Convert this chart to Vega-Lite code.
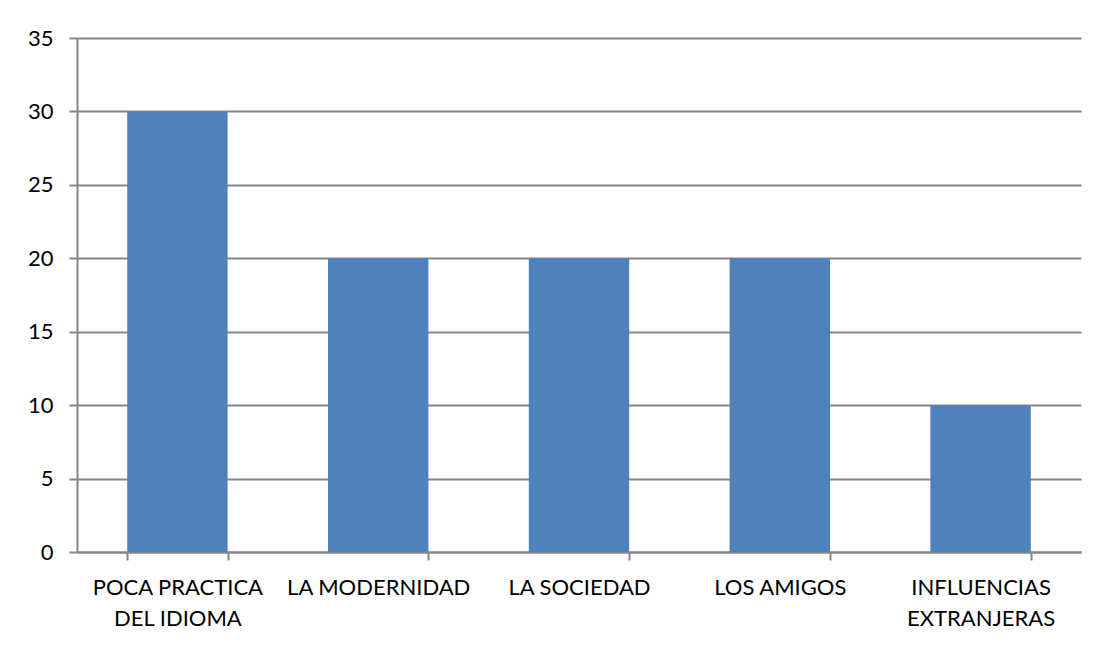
{
  "$schema": "https://vega.github.io/schema/vega-lite/v6.json",
  "width": 1004,
  "height": 514,
  "autosize": {"type": "none"},
  "padding": {"left": 77, "top": 38, "right": 20, "bottom": 96},
  "background": "white",
  "data": {
    "values": [
      {"categoria": "POCA PRACTICA DEL IDIOMA", "valor": 30},
      {"categoria": "LA MODERNIDAD", "valor": 20},
      {"categoria": "LA SOCIEDAD", "valor": 20},
      {"categoria": "LOS AMIGOS", "valor": 20},
      {"categoria": "INFLUENCIAS EXTRANJERAS", "valor": 10}
    ]
  },
  "mark": {"type": "bar", "color": "#4F81BD"},
  "encoding": {
    "x": {
      "field": "categoria",
      "type": "nominal",
      "sort": null,
      "scale": {"paddingInner": 0.5, "paddingOuter": 0.25},
      "axis": {
        "title": null,
        "labelAngle": 0,
        "labelFont": "Lato",
        "labelFontSize": 22,
        "labelColor": "#000000",
        "labelPadding": 17,
        "labelLineHeight": 31,
        "labelLimit": 400,
        "labelOverlap": false,
        "labelExpr": "datum.label == 'POCA PRACTICA DEL IDIOMA' ? ['POCA PRACTICA', 'DEL IDIOMA'] : datum.label == 'INFLUENCIAS EXTRANJERAS' ? ['INFLUENCIAS', 'EXTRANJERAS'] : datum.label",
        "tickBand": "extent",
        "tickSize": 8,
        "tickColor": "#868686",
        "tickWidth": 2,
        "domainColor": "#868686",
        "domainWidth": 2,
        "grid": false
      }
    },
    "y": {
      "field": "valor",
      "type": "quantitative",
      "scale": {"domain": [0, 35], "nice": false},
      "axis": {
        "title": null,
        "values": [0, 5, 10, 15, 20, 25, 30, 35],
        "labelFont": "Lato",
        "labelFontSize": 22,
        "labelColor": "#000000",
        "labelPadding": 16,
        "tickSize": 8,
        "tickColor": "#868686",
        "tickWidth": 2,
        "domainColor": "#868686",
        "domainWidth": 2,
        "grid": true,
        "gridColor": "#868686",
        "gridWidth": 2
      }
    }
  },
  "config": {"view": {"stroke": null}}
}
